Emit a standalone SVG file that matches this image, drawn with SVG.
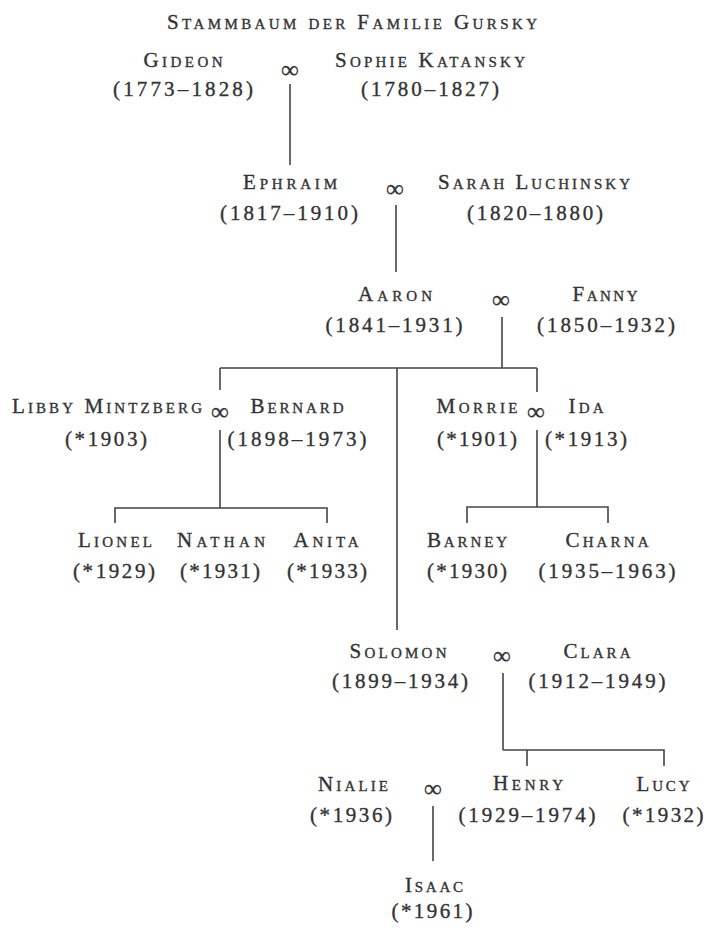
<svg xmlns="http://www.w3.org/2000/svg" width="708" height="930" viewBox="0 0 708 930">
<style>
text{font-family:"Liberation Serif","Times New Roman",serif;fill:#333;stroke:#333;stroke-width:0.35;text-anchor:middle}
.n{font-size:21px;font-variant:small-caps}
.t{font-size:21px;font-variant:small-caps}
.d{font-size:21px}
.m{font-size:25px;dominant-baseline:central;stroke-width:0.3}
.c line,.c polyline{stroke:#444;stroke-width:1.6;fill:none}
</style>
<rect width="708" height="930" fill="#fff"/>
<text class="t" x="352" y="29" textLength="370">Stammbaum der Familie Gursky</text>
<g id="connectors" class="c">
<line x1="290" y1="84" x2="290" y2="165"/>
<line x1="396" y1="205" x2="396" y2="272"/>
<line x1="502" y1="317" x2="502" y2="368"/>
<line x1="220" y1="368" x2="537" y2="368"/>
<line x1="220" y1="368" x2="220" y2="390"/>
<line x1="220" y1="430" x2="220" y2="508"/>
<polyline points="115,523 115,508 327,508 327,523"/>
<line x1="537" y1="368" x2="537" y2="392"/>
<line x1="537" y1="430" x2="537" y2="507"/>
<polyline points="467,523 467,507 608,507 608,523"/>
<line x1="397" y1="368" x2="397" y2="630"/>
<line x1="503" y1="673" x2="503" y2="750"/>
<polyline points="503,750 664,750 664,766"/>
<line x1="527" y1="750" x2="527" y2="766"/>
<line x1="433" y1="806" x2="433" y2="861"/>
</g>
<g id="marriages">
<text class="m" x="290" y="69">∞</text>
<text class="m" x="395" y="188">∞</text>
<text class="m" x="501" y="299">∞</text>
<text class="m" x="220" y="411">∞</text>
<text class="m" x="536" y="411">∞</text>
<text class="m" x="502" y="655">∞</text>
<text class="m" x="433" y="788">∞</text>
</g>
<g id="gideon"><text class="n" x="183" y="67" textLength="79">Gideon</text><text class="d" x="183" y="96" textLength="140">(1773–1828)</text></g>
<g id="sophie"><text class="n" x="430" y="67" textLength="190">Sophie Katansky</text><text class="d" x="430" y="96" textLength="138">(1780–1827)</text></g>
<g id="ephraim"><text class="n" x="290" y="189" textLength="94">Ephraim</text><text class="d" x="289" y="220" textLength="138">(1817–1910)</text></g>
<g id="sarah"><text class="n" x="534" y="189" textLength="192">Sarah Luchinsky</text><text class="d" x="535" y="220" textLength="136">(1820–1880)</text></g>
<g id="aaron"><text class="n" x="395" y="301" textLength="74">Aaron</text><text class="d" x="394" y="332" textLength="137">(1841–1931)</text></g>
<g id="fanny"><text class="n" x="605" y="301" textLength="65">Fanny</text><text class="d" x="606" y="332" textLength="138">(1850–1932)</text></g>
<g id="libby"><text class="n" x="107" y="413" textLength="190">Libby Mintzberg</text><text class="d" x="106" y="446" textLength="82">(*1903)</text></g>
<g id="bernard"><text class="n" x="297" y="413" textLength="93">Bernard</text><text class="d" x="297" y="446" textLength="139">(1898–1973)</text></g>
<g id="morrie"><text class="n" x="477" y="413" textLength="81">Morrie</text><text class="d" x="477" y="446" textLength="80">(*1901)</text></g>
<g id="ida"><text class="n" x="586" y="413" textLength="35">Ida</text><text class="d" x="586" y="446" textLength="82">(*1913)</text></g>
<g id="lionel"><text class="n" x="115" y="547" textLength="74">Lionel</text><text class="d" x="114" y="578" textLength="82">(*1929)</text></g>
<g id="nathan"><text class="n" x="221" y="547" textLength="88">Nathan</text><text class="d" x="220" y="578" textLength="80">(*1931)</text></g>
<g id="anita"><text class="n" x="326" y="547" textLength="65">Anita</text><text class="d" x="327" y="578" textLength="80">(*1933)</text></g>
<g id="barney"><text class="n" x="467" y="547" textLength="80">Barney</text><text class="d" x="467" y="578" textLength="80">(*1930)</text></g>
<g id="charna"><text class="n" x="607" y="547" textLength="83">Charna</text><text class="d" x="607" y="578" textLength="137">(1935–1963)</text></g>
<g id="solomon"><text class="n" x="398" y="658" textLength="97">Solomon</text><text class="d" x="400" y="688" textLength="136">(1899–1934)</text></g>
<g id="clara"><text class="n" x="597" y="658" textLength="67">Clara</text><text class="d" x="597" y="688" textLength="137">(1912–1949)</text></g>
<g id="nialie"><text class="n" x="353" y="791" textLength="70">Nialie</text><text class="d" x="351" y="822" textLength="82">(*1936)</text></g>
<g id="henry"><text class="n" x="528" y="790" textLength="70">Henry</text><text class="d" x="527" y="822" textLength="137">(1929–1974)</text></g>
<g id="lucy"><text class="n" x="663" y="791" textLength="53">Lucy</text><text class="d" x="663" y="822" textLength="81">(*1932)</text></g>
<g id="isaac"><text class="n" x="434" y="892" textLength="58">Isaac</text><text class="d" x="432" y="918" textLength="81">(*1961)</text></g>
</svg>
